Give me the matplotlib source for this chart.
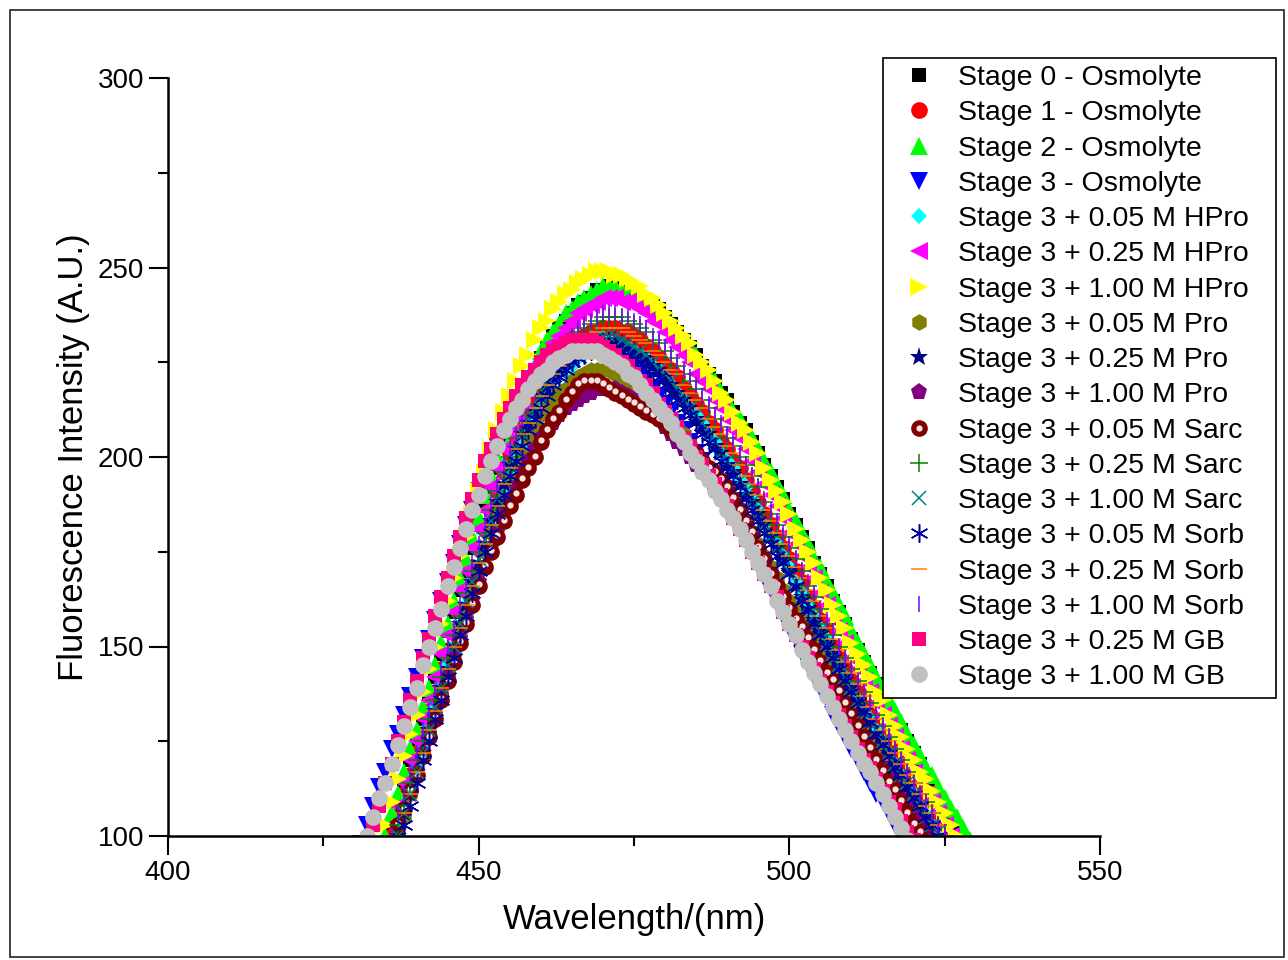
import numpy as np
import matplotlib
matplotlib.use("Agg")
import matplotlib.pyplot as plt
from matplotlib.legend_handler import HandlerTuple
from matplotlib.patches import Rectangle
import matplotlib.transforms as mtransforms

plt.rcParams['font.family'] = ['Liberation Sans', 'DejaVu Sans']

# ---------------- data (wavelength start in nm, 1 nm steps; intensity in A.U.) ----------------
stage0_start = 435
stage0 = [97,103,108,114,120,125,131,137,142,148, 154,159,165,170,176,182,187,192,197,203,
          207,212,216,219,223,226,229,232,234,236, 238,240,241,242,244,244,245,245,245,244,
          243,242,241,240,239,237,235,233,231,229, 227,224,222,220,217,215,212,209,207,204,
          201,198,195,192,189,185,182,179,176,172, 169,166,162,159,156,152,149,146,143,140,
          137,133,130,128,125,122,119,116,113,110, 107,104,101,99]
stage1_start = 436
stage1 = [100,106,111,116,122,127,133,138,144,149, 154,160,165,171,176,181,186,191,196,201,
          205,208,212,215,218,221,223,225,227,229, 230,232,233,233,234,234,234,233,233,232,
          231,229,228,226,224,223,221,218,216,214, 212,209,207,204,202,199,197,194,191,188,
          185,182,179,176,173,170,167,163,160,157, 154,150,147,144,141,138,135,132,129,126,
          124,121,118,115,112,110,107,104,101,99]
stage2_start = 435
stage2 = [100,106,111,117,123,128,134,139,145,151, 156,162,168,173,179,184,190,195,200,205,
          210,214,217,221,224,228,231,233,235,238, 239,241,242,243,244,245,245,245,244,244,
          243,242,241,240,238,237,235,233,231,229, 227,224,222,220,217,215,212,210,207,205,
          202,199,196,193,190,186,183,180,177,173, 171,167,164,161,158,154,151,148,145,142,
          139,136,133,130,127,124,121,118,116,113, 110,107,105,102,99]
stage3_start = 431
stage3 = [98,103,108,113,117,123,127,132,137,142, 147,152,157,162,167,172,177,182,186,191,
          195,199,203,206,209,212,215,217,220,222, 223,225,226,227,228,229,230,230,230,229,
          229,228,227,225,224,222,220,218,216,214, 212,209,207,204,201,199,196,194,191,188,
          185,181,178,175,172,168,165,162,158,155, 152,148,145,142,139,136,132,129,126,123,
          120,117,114,111,109,106,103,100,97]
hpro005_start = 437
hpro005 = [103,108,113,118,124,129,134,140,145,150, 155,161,166,171,176,181,186,191,195,200,
           203,207,210,213,216,218,221,223,224,226, 227,228,229,230,230,230,229,229,228,227,
           226,224,223,221,219,217,215,213,211,209, 206,204,201,199,197,194,192,189,186,182,
           179,177,174,171,167,164,161,158,155,152, 148,145,142,139,136,133,131,128,125,122,
           119,116,113,111,108,106,103,100,97]
hpro025_start = 435
hpro025 = [97,103,108,114,120,125,131,136,142,148, 153,159,165,170,176,181,186,192,197,202,
           206,210,214,218,221,225,227,230,232,234, 236,238,239,240,241,242,242,242,241,241,
           240,239,238,236,235,233,231,229,227,225, 222,220,218,215,213,210,207,205,202,199,
           196,193,190,187,184,180,177,174,171,168, 164,161,157,154,151,147,144,141,138,135,
           132,129,126,123,120,117,114,111,109,106, 103,100,97]
hpro100_start = 434
hpro100 = [97,103,109,115,121,127,132,138,144,150, 156,162,168,174,179,185,191,196,202,207,
           212,216,220,224,227,231,234,236,239,241, 243,244,246,247,248,249,249,249,248,248,
           247,246,245,243,242,240,238,236,234,232, 230,227,225,223,220,217,215,212,209,207,
           204,201,197,194,191,188,185,181,178,175, 172,168,165,161,158,155,151,148,145,142,
           138,136,132,129,126,123,120,117,115,112, 109,106,103,100,97]
pro005_start = 437
pro005 = [100,105,111,116,122,127,132,138,143,149, 154,159,165,170,175,180,185,189,194,198,
          201,205,208,211,213,215,217,218,220,221, 222,223,223,223,223,222,221,220,219,218,
          217,215,213,212,210,208,206,203,201,199, 197,195,192,190,188,185,182,179,177,174,
          171,168,165,162,160,157,154,151,148,145, 142,139,136,134,131,128,126,123,120,118,
          115,113,110,108,105,103,100,97]
pro025_start = 437
pro025 = [100,106,111,117,122,128,133,139,144,150, 156,161,167,172,177,183,188,193,198,202,
          206,209,212,216,218,221,223,225,226,228, 229,230,231,231,231,231,230,229,228,227,
          226,224,223,221,219,217,215,213,210,208, 206,203,201,198,196,193,190,188,185,182,
          179,176,173,170,166,163,160,157,154,151, 148,145,142,139,136,133,130,127,125,122,
          119,116,113,111,108,105,103,100,97]
pro100_start = 437
pro100 = [103,107,112,117,122,127,132,137,142,147, 152,157,162,167,171,176,180,185,189,192,
          196,199,202,205,207,209,211,213,214,215, 216,217,218,218,218,218,217,216,215,214,
          213,211,210,208,206,204,202,200,198,196, 194,191,189,187,184,181,179,177,174,171,
          168,165,162,160,157,154,151,148,145,142, 139,136,134,131,128,126,123,120,118,115,
          113,110,108,105,103,100,97]
sarc005_start = 437
sarc005 = [103,107,112,116,121,126,131,136,141,146, 151,156,161,166,171,175,179,183,187,190,
           194,197,200,204,207,210,212,215,217,219, 220,220,220,219,218,217,216,215,214,213,
           212,211,210,209,207,206,204,202,201,199, 197,196,194,192,189,186,183,180,176,173,
           169,166,163,160,157,155,152,149,146,143, 141,138,135,132,129,126,123,120,117,114,
           112,109,106,103,101,98]
sarc025_start = 437
sarc025 = [103,108,114,120,125,131,136,142,147,153, 158,164,170,175,180,186,191,196,200,205,
           209,212,216,219,222,225,227,229,231,233, 234,235,236,237,237,237,237,236,235,234,
           233,231,230,228,226,224,222,220,218,215, 213,210,208,205,203,200,198,195,192,188,
           185,182,179,176,173,170,166,163,160,156, 153,150,147,144,141,138,135,132,129,126,
           123,120,117,114,111,109,106,103,100,97]
sarc100_start = 437
sarc100 = [100,106,111,117,122,128,134,139,145,150, 156,162,167,173,178,183,189,194,198,202,
           206,210,213,216,219,222,224,226,227,229, 230,231,232,232,232,232,231,230,229,228,
           227,225,223,222,220,218,215,213,211,209, 206,204,201,199,197,194,191,188,185,182,
           179,176,173,170,167,164,161,158,154,151, 148,145,142,139,136,133,130,128,125,122,
           119,116,114,111,108,105,103,101,98]
sorb005_start = 437
sorb005 = [97,103,108,114,120,125,131,136,142,147, 153,158,164,170,175,180,185,190,195,199,
           203,207,210,213,216,219,221,223,225,226, 227,228,229,229,229,229,228,227,226,225,
           224,222,221,219,217,215,213,211,209,206, 204,202,199,197,195,192,189,186,183,180,
           177,174,172,169,166,162,160,156,153,150, 147,144,141,138,135,133,130,127,124,121,
           118,116,113,110,108,105,103,100,97]
sorb025_start = 437
sorb025 = [100,106,111,117,122,128,133,139,144,150, 155,161,166,172,177,182,187,193,197,202,
           206,209,213,216,219,222,224,226,228,230, 231,232,233,234,234,234,234,233,232,231,
           230,228,227,225,223,222,219,217,215,213, 210,208,206,203,201,198,195,193,190,186,
           183,180,177,174,171,168,165,162,158,155, 152,149,146,143,140,137,134,131,128,125,
           122,119,116,114,111,108,106,103,100,97]
sorb100_start = 436
sorb100 = [100,106,111,117,122,128,133,139,144,150, 155,161,166,172,177,183,188,193,198,202,
           206,210,214,217,221,223,226,228,230,232, 234,235,236,237,238,238,238,237,237,236,
           235,234,232,231,229,227,225,223,221,219, 216,214,211,209,206,204,201,198,195,192,
           189,186,183,180,177,173,170,167,164,160, 157,154,150,147,144,141,138,135,132,129,
           126,123,120,117,114,111,109,106,103,101, 98]
gb025_start = 432
gb025 = [98,103,108,114,119,125,130,136,141,147, 152,158,163,168,174,179,184,189,194,199,
         202,206,210,213,216,219,221,223,225,227, 228,229,230,231,231,231,231,230,229,228,
         227,225,224,222,220,219,217,214,212,210, 208,205,203,200,198,195,193,190,187,184,
         181,178,175,172,169,166,163,159,156,153, 150,147,144,141,138,135,132,129,126,123,
         120,118,115,112,109,107,104,101,99]
gb100_start = 432
gb100 = [100,105,110,114,119,124,129,134,139,145, 150,155,160,166,171,176,181,186,190,195,
         199,203,207,210,213,215,218,220,222,223, 225,226,227,228,228,228,228,228,227,226,
         225,224,222,221,219,217,215,213,211,209, 206,204,201,199,196,194,191,189,186,184,
         181,178,175,172,169,166,162,159,156,153, 149,146,143,140,137,134,131,128,125,122,
         119,117,114,111,108,105,102,99]

labels = ["Stage 0 - Osmolyte", "Stage 1 - Osmolyte", "Stage 2 - Osmolyte", "Stage 3 - Osmolyte",
          "Stage 3 + 0.05 M HPro", "Stage 3 + 0.25 M HPro", "Stage 3 + 1.00 M HPro",
          "Stage 3 + 0.05 M Pro", "Stage 3 + 0.25 M Pro", "Stage 3 + 1.00 M Pro",
          "Stage 3 + 0.05 M Sarc", "Stage 3 + 0.25 M Sarc", "Stage 3 + 1.00 M Sarc",
          "Stage 3 + 0.05 M Sorb", "Stage 3 + 0.25 M Sorb", "Stage 3 + 1.00 M Sorb",
          "Stage 3 + 0.25 M GB", "Stage 3 + 1.00 M GB"]

series = [(stage0_start, stage0), (stage1_start, stage1), (stage2_start, stage2), (stage3_start, stage3),
          (hpro005_start, hpro005), (hpro025_start, hpro025), (hpro100_start, hpro100),
          (pro005_start, pro005), (pro025_start, pro025), (pro100_start, pro100),
          (sarc005_start, sarc005), (sarc025_start, sarc025), (sarc100_start, sarc100),
          (sorb005_start, sorb005), (sorb025_start, sorb025), (sorb100_start, sorb100),
          (gb025_start, gb025), (gb100_start, gb100)]

# ---------------- styles ----------------
ASTER = (6, 2, 0)
styles = [  # marker, color, size, filled
    ('s', '#000000', 10.0, True),
    ('o', '#FF0000', 12.0, True),
    ('^', '#00FF00', 13.0, True),
    ('v', '#0000FF', 13.0, True),
    ('D', '#00FFFF', 8.5, True),
    ('<', '#FF00FF', 13.0, True),
    ('>', '#FFFF00', 13.0, True),
    ('h', '#808000', 12.0, True),
    ('*', '#000080', 14.0, True),
    ('p', '#800080', 12.5, True),
    ('o', '#800000', 12.0, True),   # sphere
    ('+', '#008000', 13.0, False),
    ('x', '#008080', 10.5, False),
    (ASTER, '#0000A0', 13.0, False),
    ('_', '#FF8000', 12.0, False),
    ('|', '#8000FF', 12.0, False),
    ('s', '#FF0080', 10.0, True),
    ('o', '#C0C0C0', 12.0, True),
]

W, H = 1288, 960
fig = plt.figure(figsize=(W / 100, H / 100), dpi=100)
ax = fig.add_axes([168 / W, 1 - 836 / H, (1100 - 168) / W, (836 - 78) / H])

handles = []
for i, ((start, vals), (mk, col, ms, filled)) in enumerate(zip(series, styles)):
    x = np.arange(start, start + len(vals))
    y = np.array(vals, dtype=float)
    mew = 0 if filled else 1.1
    ln, = ax.plot(x, y, linestyle='none', marker=mk, color=col, markersize=ms,
                  markeredgewidth=mew, zorder=2 + i * 0.01)
    if i == 10:  # sphere highlight
        tr = mtransforms.offset_copy(ax.transData, fig=fig, x=0, y=1.5, units='dots')
        hl, = ax.plot(x, y, linestyle='none', marker='o', color='#f3e3e3', markersize=4.5,
                      markeredgewidth=0, transform=tr, zorder=2 + i * 0.01 + 0.005)
        handles.append((ln, hl))
    else:
        handles.append(ln)

ax.set_xlim(400, 550)
ax.set_ylim(100, 300)
ax.set_xticks([400, 450, 500, 550])
ax.set_xticks([425, 475, 525], minor=True)
ax.set_yticks([100, 150, 200, 250, 300])
ax.set_yticks([125, 175, 225, 275], minor=True)

for s in ['top', 'right']:
    ax.spines[s].set_visible(False)
for s in ['left', 'bottom']:
    ax.spines[s].set_linewidth(1.8)

ax.tick_params(which='major', direction='out', length=14, width=1.5, labelsize=20, pad=3,
               colors='black')
ax.tick_params(which='minor', direction='out', length=7, width=1.5)

ax.set_xlabel('Wavelength/(nm)', fontsize=25)
ax.set_ylabel('Fluorescence Intensity (A.U.)', fontsize=25)
ax.xaxis.set_label_coords(0.5, (836 - 903) / 758)
ax.yaxis.set_label_coords((90 - 168) / 932, 0.5)

leg = ax.legend(handles, labels, loc='upper left',
                bbox_to_anchor=(883 / W, 1 - 58 / H, (1276 - 883) / W, 0),
                bbox_transform=fig.transFigure, mode='expand', numpoints=1,
                fontsize=20.5, frameon=True, fancybox=False, edgecolor='black',
                framealpha=1, borderpad=0.25, handlelength=2.0, handletextpad=0.4,
                labelspacing=0.325, borderaxespad=0,
                handler_map={tuple: HandlerTuple(ndivide=1, pad=0)})
leg.get_frame().set_linewidth(1.2)
leg.set_zorder(10)

fig.add_artist(Rectangle((10 / W, 3 / H), (1284 - 10) / W, (957 - 10) / H,
                         transform=fig.transFigure, fill=False, edgecolor='#222222',
                         linewidth=1.2))

fig.savefig('out.png', dpi=100)
